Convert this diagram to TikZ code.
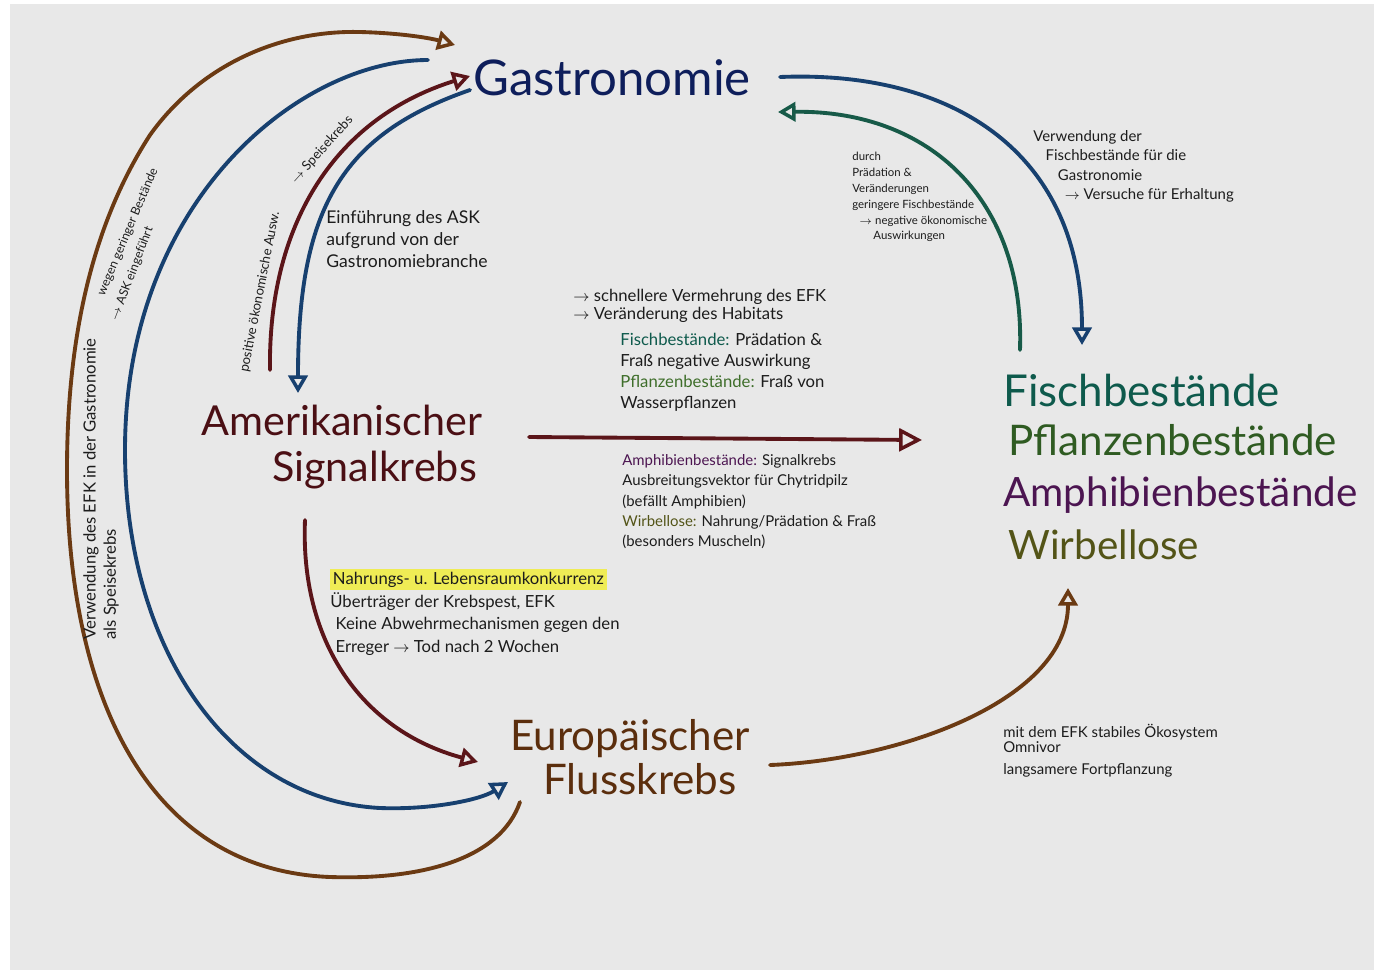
\documentclass[tikz,border=0pt]{standalone}
\usepackage{fontspec}
\setmainfont{Lato}
\usepackage{tikz}
\usetikzlibrary{arrows.meta,calc}
\definecolor{paper}{HTML}{E8E8E8}
\definecolor{gastroblue}{HTML}{0E1E5B}
\definecolor{askred}{HTML}{4B0F14}
\definecolor{askarrow}{HTML}{5B1519}
\definecolor{efkbrown}{HTML}{5B2E0D}
\definecolor{efkarrow}{HTML}{6B3A13}
\definecolor{lineblue}{HTML}{17406F}
\definecolor{fischteal}{HTML}{0E5A4C}
\definecolor{fischarrow}{HTML}{175A48}
\definecolor{pflanzgreen}{HTML}{2F5B22}
\definecolor{pflanzlight}{HTML}{3E6E2A}
\definecolor{amphpurple}{HTML}{4C1551}
\definecolor{wirbolive}{HTML}{535417}
\definecolor{hilite}{HTML}{EFEC55}
\definecolor{ink}{HTML}{1C1C1C}

\begin{document}
\begin{tikzpicture}[x=0.02cm,y=-0.02cm,
    every node/.style={inner sep=0pt},
    title/.style={font=\fontsize{24}{25}\selectfont,align=center},
    note/.style={anchor=north west,align=left,text=ink},
    flow/.style={line width=2.2pt,line cap=round,-{Triangle[open,length=10pt,width=11pt,line width=2pt]}}]
  \useasboundingbox (0,0) rectangle (1374,975);
  \fill[white] (0,0) rectangle (1374,975);
  \fill[paper] (10,4) rectangle (1374,970);

  % main terms
  \node[title,text=gastroblue,font=\fontsize{28}{30}\selectfont] (gastro) at (612,78) {Gastronomie};
  \node[title,text=askred,font=\fontsize{23.5}{26}\selectfont] (ask) at (342,447) {Amerikanischer\\\hspace*{1.3cm}Signalkrebs};
  \node[title,text=efkbrown] (efk) at (630,757) {Europäischer\\\hspace*{0.4cm}Flusskrebs};
  \node[title,text=fischteal,anchor=west,font=\fontsize{25}{26}\selectfont] (fisch) at (1003,390) {Fischbestände};
  \node[title,text=pflanzgreen,anchor=west] (pflanzen) at (1008,440) {Pflanzenbestände};
  \node[title,text=amphpurple,anchor=west,font=\fontsize{23}{25}\selectfont] (amphib) at (1003,495) {Amphibienbestände};
  \node[title,text=wirbolive,anchor=west,font=\fontsize{23}{25}\selectfont] (wirbel) at (1008,545) {Wirbellose};

  % connectors
  \draw[flow,efkarrow] ([shift={(-110,45)}]efk.center) .. controls (500,860) and (420,880) .. (330,877)
    .. controls (150,870) and (67,700) .. (67,470)
    .. controls (67,330) and (95,220) .. (150,135)
    .. controls (200,65) and (280,30) .. (360,32)
    .. controls (400,33) and (430,38) .. ([shift={(-157,-33)}]gastro.center);
  \draw[flow,lineblue] ([shift={(-184,-18)}]gastro.center) .. controls (300,60) and (125,200) .. (125,450)
    .. controls (125,650) and (230,800) .. (380,808)
    .. controls (430,810) and (480,800) .. ([shift={(-122,25)}]efk.center);
  \draw[flow,askarrow] ([shift={(-72,-77)}]ask.center) .. controls (268,230) and (330,120) .. ([shift={(-142,-2)}]gastro.center);
  \draw[flow,lineblue] ([shift={(-142,12)}]gastro.center) .. controls (340,135) and (298,210) .. ([shift={(-44,-54)}]ask.center);
  \draw[flow,askarrow,-{Triangle[open,length=13pt,width=13pt,line width=2pt]}] ([shift={(187,-10)}]ask.center) -- ([shift={(-86,0)}]pflanzen.west);
  \draw[flow,askarrow] ([shift={(-37,73)}]ask.center) .. controls (300,640) and (360,730) .. ([shift={(-152,5)}]efk.center);
  \draw[flow,efkarrow] ([shift={(140,8)}]efk.center) .. controls (900,760) and (1068,700) .. ([shift={(60,43)}]wirbel.west);
  \draw[flow,lineblue] ([shift={(168,-1)}]gastro.center) .. controls (950,70) and (1082,150) .. ([shift={(79,-45)}]fisch.west);
  \draw[flow,fischarrow] ([shift={(17,-40)}]fisch.west) .. controls (1025,200) and (930,110) .. ([shift={(166,34)}]gastro.center);

  % notes
  \node[note,font=\fontsize{9.5}{11.5}\selectfont,rotate=90] (usage) at (83,640) {Verwendung des EFK in der Gastronomie\\als Speisekrebs};
  \node[text=ink,font=\fontsize{7}{9}\selectfont,rotate=67] (fewstock) at (128,232) {wegen geringer Bestände};
  \node[text=ink,font=\fontsize{7}{9}\selectfont,rotate=69] (askin) at (132,274) {$\rightarrow$ ASK eingeführt};
  \node[text=ink,font=\fontsize{7.5}{9}\selectfont,rotate=79] (posecon) at (260,292) {positive ökonomische Ausw.};
  \node[text=ink,font=\fontsize{7.5}{9}\selectfont,rotate=48] (speise) at (322,150) {$\rightarrow$ Speisekrebs};
  \node[note,font=\fontsize{10}{12.5}\selectfont] (einf) at (326,210) {Einführung des ASK\\aufgrund von der\\Gastronomiebranche};
  \node[note,font=\fontsize{6.5}{9}\selectfont] (durch) at (852,152) {durch\\Prädation \&\\Veränderungen\\geringere Fischbestände\\\hspace*{4pt}$\rightarrow$ negative ökonomische\\\hspace*{12pt}Auswirkungen};
  \node[note,font=\fontsize{8.5}{11}\selectfont] (verw) at (1033,130) {Verwendung der\\\hspace*{7pt}Fischbestände für die\\\hspace*{14pt}Gastronomie\\\hspace*{18pt}$\rightarrow$ Versuche für Erhaltung};
  \node[note,font=\fontsize{9.5}{10}\selectfont] (habit) at (573,289) {$\rightarrow$ schnellere Vermehrung des EFK\\$\rightarrow$ Veränderung des Habitats};
  \node[note,font=\fontsize{9.5}{12}\selectfont] (fischtxt) at (620,333) {\textcolor{fischteal}{Fischbestände:} Prädation \&\\Fraß negative Auswirkung\\\textcolor{pflanzlight}{Pflanzenbestände:} Fraß von\\Wasserpflanzen};
  \node[note,font=\fontsize{8.5}{11.6}\selectfont] (amphtxt) at (622,454) {\textcolor{amphpurple}{Amphibienbestände:} Signalkrebs\\Ausbreitungsvektor für Chytridpilz\\(befällt Amphibien)\\\textcolor{wirbolive}{Wirbellose:} Nahrung/Prädation \& Fraß\\(besonders Muscheln)};
  \node[note,font=\fontsize{9.5}{13}\selectfont] (konk) at (330,569) {{\setlength\fboxsep{1.5pt}\colorbox{hilite}{Nahrungs- u. Lebensraumkonkurrenz}}\\Überträger der Krebspest, EFK\\\hspace*{3pt}Keine Abwehrmechanismen gegen den\\\hspace*{3pt}Erreger $\rightarrow$ Tod nach 2 Wochen};
  \node[note,font=\fontsize{8.5}{8.5}\selectfont] (mitefk) at (1003,724) {mit dem EFK stabiles Ökosystem\\Omnivor\\[4pt]langsamere Fortpflanzung};
\end{tikzpicture}
\end{document}
